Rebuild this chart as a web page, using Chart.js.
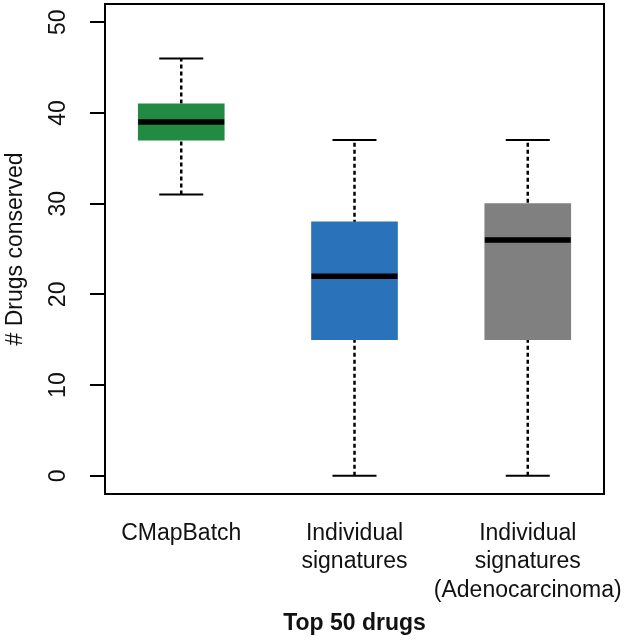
<!DOCTYPE html>
<html>
<head>
<meta charset="utf-8">
<script src="https://cdn.jsdelivr.net/npm/chart.js@4/dist/chart.umd.min.js"></script>
<style>
html,body{margin:0;padding:0;background:#fff;}
#wrap{width:625px;height:641px;}
</style>
</head>
<body>
<div id="wrap"><canvas id="c" width="625" height="641"></canvas></div>
<script>
const categories = [["CMapBatch"], ["Individual", "signatures"], ["Individual", "signatures", "(Adenocarcinoma)"]];
const positions = [1, 2, 3];
const mins = [31, 0, 0];
const q1s = [37, 15, 15];
const medians = [39, 22, 26];
const q3s = [41, 28, 30];
const maxs = [46, 37, 37];
const boxColors = ["#218a43", "#2a72b9", "#808080"];
const yTicks = [0, 10, 20, 30, 40, 50];

const FONT = "'Liberation Sans', Arial, Helvetica, sans-serif";

const whiskerSets = positions.map((p, i) => ({
  type: 'line',
  data: [{x: p, y: mins[i]}, {x: p, y: maxs[i]}],
  borderColor: '#000',
  borderWidth: 2.5,
  borderDash: [4, 3],
  pointRadius: 0,
  order: 5
}));

const boxSet = {
  type: 'bar',
  data: positions.map((p, i) => ({x: p, y: [q1s[i], q3s[i]]})),
  backgroundColor: boxColors,
  borderWidth: 0,
  barThickness: 86,
  order: 3
};

const medianSet = {
  type: 'scatter',
  data: positions.map((p, i) => ({x: p, y: medians[i]})),
  pointStyle: 'line',
  pointRadius: 43,
  borderColor: '#000',
  borderWidth: 5.5,
  order: 1
};

const capSet = {
  type: 'scatter',
  data: positions.map((p, i) => ({x: p, y: maxs[i]})).concat(positions.map((p, i) => ({x: p, y: mins[i]}))),
  pointStyle: 'line',
  pointRadius: 22,
  borderColor: '#000',
  borderWidth: 2,
  order: 1
};

const frame = {
  id: 'frame',
  afterDraw(chart) {
    const a = chart.chartArea, ctx = chart.ctx;
    ctx.save();
    ctx.strokeStyle = '#000';
    ctx.lineWidth = 2;
    ctx.strokeRect(a.left, a.top, a.right - a.left, a.bottom - a.top);
    ctx.restore();
  }
};

function zeroPad(s) {
  s.paddingLeft = 0; s.paddingRight = 0; s.paddingTop = 0; s.paddingBottom = 0;
}

new Chart(document.getElementById('c'), {
  data: {datasets: [...whiskerSets, boxSet, medianSet, capSet]},
  options: {
    responsive: false,
    animation: false,
    events: [],
    layout: {autoPadding: false, padding: {top: 4, right: 21, left: 0, bottom: 0}},
    plugins: {legend: {display: false}, tooltip: {enabled: false}},
    scales: {
      x: {
        type: 'linear',
        min: 0.56, max: 3.44,
        offset: false,
        afterBuildTicks: s => { s.ticks = positions.map(v => ({value: v})); },
        afterFit: s => { s.height = 147; zeroPad(s); },
        grid: {display: false, drawTicks: false, offset: false},
        border: {display: false},
        ticks: {
          callback: v => categories[v - 1],
          font: {family: FONT, size: 23, lineHeight: 1.24},
          color: '#111',
          padding: 25,
          maxRotation: 0, minRotation: 0,
          autoSkip: false
        },
        title: {display: true, text: 'Top 50 drugs', font: {family: FONT, size: 23, weight: 'bold'}, color: '#111', padding: {top: 0, bottom: 4}}
      },
      y: {
        type: 'linear',
        min: -2, max: 52,
        afterBuildTicks: s => { s.ticks = yTicks.map(v => ({value: v})); },
        afterFit: s => { s.width = 105; zeroPad(s); },
        grid: {drawOnChartArea: false, drawTicks: true, tickLength: 15, color: '#000', lineWidth: 2},
        border: {display: false},
        ticks: {
          font: {family: FONT, size: 23},
          color: '#111',
          minRotation: 90, maxRotation: 90,
          crossAlign: 'center',
          padding: 19
        },
        title: {display: true, text: '# Drugs conserved', font: {family: FONT, size: 23}, color: '#111', padding: {top: 2, bottom: 0}}
      }
    }
  },
  plugins: [frame]
});
</script>
</body>
</html>
